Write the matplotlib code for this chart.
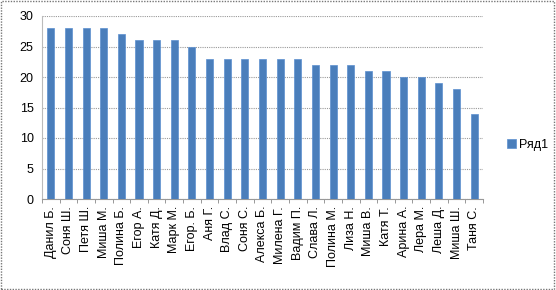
import matplotlib
matplotlib.use("Agg")
import matplotlib.pyplot as plt
from matplotlib.patches import Rectangle

names = ["Данил Б.", "Соня Ш.", "Петя Ш.", "Миша М.", "Полина Б.", "Егор А.", "Катя Д.",
         "Марк М.", "Егор. Б.", "Аня Г.", "Влад С.", "Соня С.", "Алекса Б.", "Милена Г.",
         "Вадим П.", "Слава Л.", "Полина М.", "Лиза Н.", "Миша В.", "Катя Т.", "Арина А.",
         "Лера М.", "Леша Д.", "Миша Ш.", "Таня С."]
values = [28, 28, 28, 28, 27, 26, 26, 26, 25, 23, 23, 23, 23, 23, 23, 22, 22, 22, 21, 21,
          20, 20, 19, 18, 14]
series_name = "Ряд1"
yticks = [0, 5, 10, 15, 20, 25, 30]

plt.rcParams['font.family'] = ['Liberation Sans', 'DejaVu Sans']
fig = plt.figure(figsize=(5.56, 2.90), dpi=100)
ax = fig.add_axes([42/556, 1 - 199/290, (483-42)/556, (199-16)/290])

x = list(range(len(names)))
ax.bar(x, values, width=0.4, color='#4a7ebb', edgecolor='#5b8fd0', linewidth=0.5,
       label=series_name, zorder=3)
ax.set_xlim(-0.5, len(names) - 0.5)
ax.set_ylim(0, 30)
ax.set_yticks(yticks)
ax.set_yticklabels([str(t) for t in yticks], fontsize=9)
ax.set_xticks(x)
ax.set_xticklabels(names, rotation=90, fontsize=9)
ax.set_xticks([i - 0.5 for i in range(len(names) + 1)], minor=True)
ax.tick_params(axis='x', which='major', length=0, pad=5)
ax.tick_params(axis='x', which='minor', length=3, color='#888888')
ax.tick_params(axis='y', length=0, pad=6)
ax.grid(axis='y', color='#999999', linestyle=(0, (1, 1)), linewidth=0.8, zorder=0)
for s in ['top', 'right']:
    ax.spines[s].set_visible(False)
ax.spines['left'].set_color('#bbbbbb')
ax.spines['bottom'].set_color('#999999')

leg = fig.legend(loc='center left', bbox_to_anchor=(502/556, 1 - 145/290), frameon=False,
                 fontsize=9, handlelength=0.7, handleheight=0.7, handletextpad=0.3,
                 borderaxespad=0)

fig.patches.append(Rectangle((0.002, 0.003), 0.995, 0.993, transform=fig.transFigure,
                             fill=False, edgecolor='#777777', linestyle=(0, (1, 1)),
                             linewidth=1))
fig.savefig("out.png", dpi=100)
